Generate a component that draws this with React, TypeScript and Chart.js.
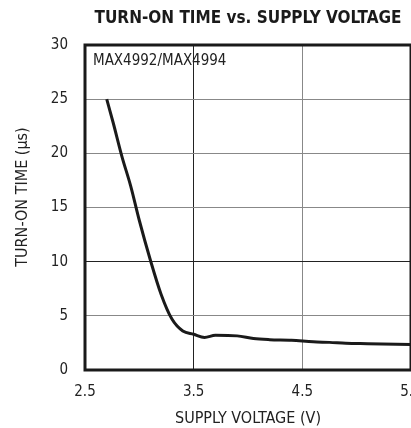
import React, { useEffect, useRef } from "react";
import { Chart, registerables } from "chart.js";

Chart.register(...registerables);

const supplyVoltage = [2.7, 2.76, 2.84, 2.92, 3.0, 3.1, 3.2, 3.3, 3.4, 3.5, 3.6, 3.7, 3.9, 4.05, 4.2, 4.4, 4.6, 4.75, 4.9, 5.1, 5.5];
const turnOnTime = [25, 22.8, 19.7, 17.0, 13.8, 10.2, 7.0, 4.7, 3.6, 3.3, 3.0, 3.2, 3.15, 2.9, 2.8, 2.75, 2.6, 2.55, 2.47, 2.43, 2.35];
const chartTitle = "TURN-ON TIME vs. SUPPLY VOLTAGE";
const xTitle = "SUPPLY VOLTAGE (V)";
const yTitle = "TURN-ON TIME (\u00b5s)";
const partLabel = "MAX4992/MAX4994";

const NARROW = "'Liberation Sans Narrow', 'DejaVu Sans Condensed', Arial, sans-serif";

export default function App() {
  const ref = useRef<HTMLCanvasElement | null>(null);
  useEffect(() => {
    if (!ref.current) return;
    const frame = {
      id: "frame",
      afterDraw(chart: any) {
        const { ctx, chartArea } = chart;
        ctx.save();
        ctx.strokeStyle = "#1a1a1a";
        ctx.lineWidth = 3;
        ctx.strokeRect(chartArea.left, chartArea.top, chartArea.right - chartArea.left, chartArea.bottom - chartArea.top);
        ctx.fillStyle = "#222";
        ctx.font = `15px ${NARROW}`;
        ctx.textBaseline = "middle";
        ctx.textAlign = "left";
        ctx.fillText(partLabel, chartArea.left + 8, chartArea.top + 16);
        ctx.font = `16px ${NARROW}`;
        ctx.textAlign = "center";
        ctx.translate(23, 197);
        ctx.rotate(-Math.PI / 2);
        ctx.fillText(yTitle, 0, 0);
        ctx.restore();
      },
    };
    const chart = new Chart(ref.current, {
      type: "line",
      data: {
        datasets: [
          {
            data: supplyVoltage.map((v, i) => ({ x: v, y: turnOnTime[i] })),
            borderColor: "#1a1a1a",
            borderWidth: 3,
            pointRadius: 0,
            cubicInterpolationMode: "monotone",
            fill: false,
          },
        ],
      },
      options: {
        animation: false,
        responsive: false,
        layout: { padding: 0 },
        plugins: {
          legend: { display: false },
          tooltip: { enabled: false },
          title: {
            display: true,
            text: chartTitle,
            fullSize: false,
            color: "#1a1a1a",
            font: { family: NARROW, size: 17, weight: "bold", lineHeight: 1.2 },
            padding: { top: 8, bottom: 16.6 },
          },
        },
        scales: {
          x: {
            type: "linear",
            min: 2.5,
            max: 5.5,
            ticks: { stepSize: 1, color: "#222", font: { family: NARROW, size: 15 }, padding: 13, maxRotation: 0 },
            grid: {
              color: (c: any) => (c.tick && Math.abs(c.tick.value - 3.5) < 0.01 ? "#222" : "#888"),
              lineWidth: 1,
              drawTicks: false,
            },
            border: { display: false },
            title: { display: true, text: xTitle, color: "#222", font: { family: NARROW, size: 16, lineHeight: 1.2 }, padding: { top: 0, bottom: 0 } },
            afterFit: (s: any) => {
              s.height = 58;
              s.paddingLeft = 0;
              s.paddingRight = 0;
            },
          },
          y: {
            min: 0,
            max: 30,
            ticks: { stepSize: 5, color: "#222", font: { family: NARROW, size: 15 }, padding: 17 },
            grid: {
              color: (c: any) => (c.tick && c.tick.value === 10 ? "#222" : "#888"),
              lineWidth: 1,
              drawTicks: false,
            },
            border: { display: false },
            afterFit: (s: any) => {
              s.width = 85;
              s.paddingTop = 0;
              s.paddingBottom = 0;
            },
          },
        },
      },
      plugins: [frame],
    });
    return () => chart.destroy();
  }, []);
  return (
    <div style={{ position: "fixed", left: 0, top: 0, width: 411, height: 428, background: "#fff" }}>
      <canvas ref={ref} width={411} height={428} style={{ width: 411, height: 428, display: "block" }} />
    </div>
  );
}
